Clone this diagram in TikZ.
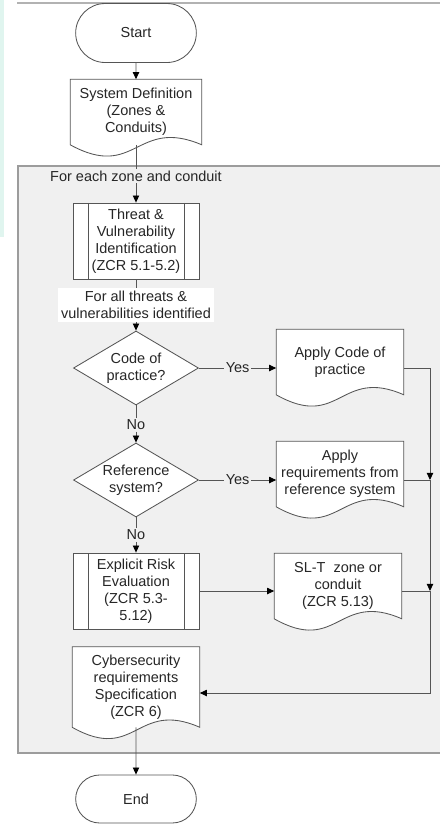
\documentclass[tikz,border=0pt]{standalone}
\usepackage{fontspec}
\setmainfont{Liberation Sans}
\usetikzlibrary{shapes.geometric,shapes.misc,arrows.meta,calc}
\pgfdeclarelayer{back}
\pgfdeclarelayer{mid}
\pgfsetlayers{back,mid,main}
\definecolor{framegray}{HTML}{F0F0F0}
\definecolor{framedraw}{HTML}{9C9C9C}
\definecolor{linegray}{HTML}{555555}
\definecolor{mint}{HTML}{E0F5EF}
\newcommand\docout[1]{%
  \begin{pgfonlayer}{mid}
  \draw[draw=linegray, line width=0.6pt, fill=white] (#1.north west) -- (#1.north east) -- (#1.south east)
    .. controls ($(#1.south)+(0,-28)$) and ($(#1.south)+(0,36)$) .. (#1.south west) -- cycle;
  \end{pgfonlayer}}

\begin{document}
\begin{tikzpicture}[x=0.025cm, y=-0.025cm,
  font=\fontsize{10.3}{12.2}\selectfont, text=black!85,
  term/.style={rounded rectangle, draw=linegray, line width=0.6pt, fill=white, minimum width=3.25cm, minimum height=1.475cm},
  doc/.style={rectangle, minimum width=3.175cm, minimum height=1.625cm, align=center, inner sep=0pt},
  proc/.style={rectangle, draw=linegray, line width=0.6pt, fill=white, minimum width=3.15cm, minimum height=1.9cm, align=center, inner sep=0pt,
    path picture={\draw[linegray, line width=0.6pt]
      ([xshift=0.375cm]path picture bounding box.north west) -- ([xshift=0.375cm]path picture bounding box.south west)
      ([xshift=-0.375cm]path picture bounding box.north east) -- ([xshift=-0.375cm]path picture bounding box.south east);}},
  dec/.style={diamond, draw=linegray, line width=0.6pt, fill=white, minimum width=3.125cm, minimum height=1.85cm, aspect=1.7, inner sep=0pt, align=center},
  lbl/.style={fill=framegray, inner sep=1pt, align=center},
  link/.style={draw=linegray, line width=0.6pt},
  arrow/.style={link, -{Triangle[length=5pt,width=4.5pt,color=black]}}
]
\useasboundingbox (0,0) rectangle (440,825);
\begin{pgfonlayer}{back}
\fill[mint] (0,0) rectangle (4,237);
\draw[black!30, line width=1pt] (17,3) -- (440,3);
\fill[framegray] (18,166) rectangle (445,753);
\draw[framedraw, line width=1.2pt] (445,166) -- (18,166) -- (18,753) -- (445,753);
\end{pgfonlayer}

\node[term] (start) at (136,33) {Start};
\node[doc, minimum width=3.275cm] (sysdef) at (136,112) {System Definition\\(Zones \&\\Conduits)};
\node[lbl] (each) at (136,176) {For each zone and conduit};
\node[proc] (threat) at (136,241) {Threat \&\\Vulnerability\\Identification\\(ZCR 5.1-5.2)};
\node[lbl, fill=white, inner sep=2pt] (all) at (136,305) {For all threats \&\\vulnerabilities identified};
\node[dec] (dia1) at (136,368) {Code of\\practice?};
\node[doc] (doc1) at (340,362) {Apply Code of\\practice};
\node[lbl] (no1) at (136,425) {No};
\node[dec] (dia2) at (136,480) {Reference\\system?};
\node[doc] (doc2) at (340,474) {Apply\\requirements from\\reference system};
\node[lbl] (no2) at (136,535) {No};
\node[proc] (expl) at (136,591) {Explicit Risk\\Evaluation\\(ZCR 5.3-\\5.12)};
\node[doc] (slt) at (338,586) {SL-T\ \ zone or\\conduit\\(ZCR 5.13)};
\node[doc, minimum height=2cm] (cyber) at (136,687) {Cybersecurity\\requirements\\Specification\\(ZCR 6)};
\node[term, minimum height=1.2cm] (end) at (136,799) {End};
\coordinate (j1) at (430,480);
\coordinate (j2) at (430,591);
\coordinate (j3) at (430,693);

\docout{sysdef}
\docout{doc1}
\docout{doc2}
\docout{slt}
\docout{cyber}

\draw[arrow] (start) -- (sysdef);
\draw[link] (sysdef.south) -- (each);
\draw[arrow] (each) -- (threat);
\draw[link] (threat) -- (all);
\draw[arrow] (all) -- (dia1);
\draw[link] (dia1) -- (no1);
\draw[arrow] (no1) -- (dia2);
\draw[link] (dia2) -- (no2);
\draw[arrow] (no2) -- (expl);
\draw[arrow] (dia1.east) -- node[lbl] {Yes} (dia1.east -| doc1.west);
\draw[arrow] (dia2.east) -- node[lbl] {Yes} (dia2.east -| doc2.west);
\draw[arrow] (expl.east) -- (expl.east -| slt.west);
\draw[arrow] (doc1.east |- dia1) -| (j1);
\draw[link] (doc2.east |- dia2) -- (j1);
\draw[arrow] (j1) -- (j2);
\draw[link] (slt.east |- expl) -- (j2);
\draw[arrow] (j2) -- (j3) -- (j3 -| cyber.east);
\draw[arrow] (cyber.south) -- (end);
\end{tikzpicture}
\end{document}
